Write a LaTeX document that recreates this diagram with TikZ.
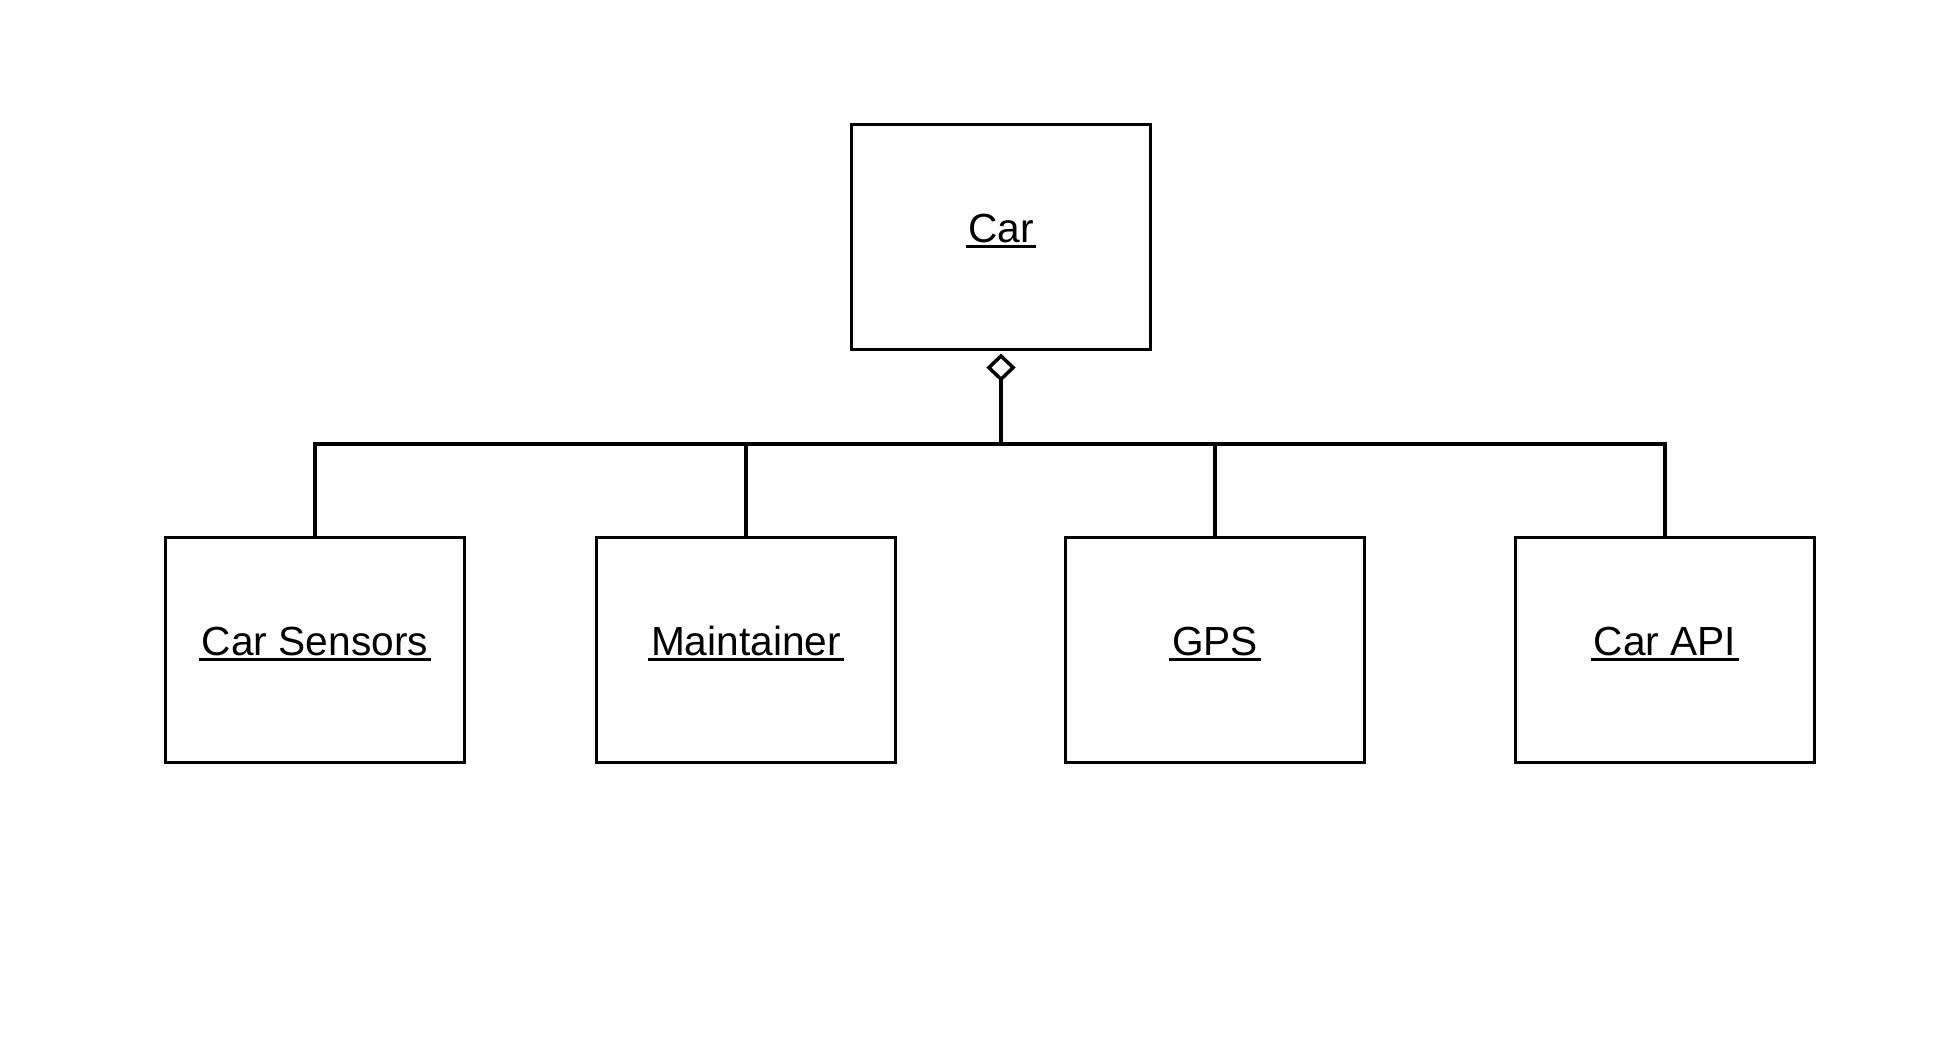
\documentclass[tikz,border=0pt]{standalone}
\usepackage{fontspec}
\setmainfont{Liberation Sans}
\usepackage{tikz}
\usetikzlibrary{arrows.meta}

% underlined object name (UML instance)
\newcommand{\objname}[1]{\setbox0\hbox{#1}%
  \rlap{\kern-2pt\rule[-4.5pt]{\dimexpr\wd0+4pt\relax}{2.2pt}}\box0}

\tikzset{
  objbox/.style={draw, line width=2.4pt, minimum width=224.5pt, minimum height=168.5pt,
    inner sep=0pt, font=\fontsize{30.5}{36}\selectfont, text height=22pt, text depth=14pt},
  wire/.style={line width=2.8pt},
  aggrtip/.style={{Diamond[open, length=21pt, width=22pt, line width=2.6pt]}-}
}

\begin{document}
\begin{tikzpicture}[x=0.75pt, y=-0.75pt]
    \useasboundingbox (0, 0) rectangle (1943, 1041);

    % Whole
    \node [objbox] (car) at (1001, 237) {\objname{Car}};

    % Parts
    \node [objbox] (sensors) at (315, 650) {\objname{Car Sensors}};
    \node [objbox] (maint) at (746, 650) {\objname{Maintainer}};
    \node [objbox] (gps) at (1215, 650) {\objname{GPS}};
    \node [objbox] (api) at (1665, 650) {\objname{Car API}};

    % Aggregation
    \coordinate (bus) at (1001, 444);
    \draw [wire, aggrtip] ([yshift=-2pt]car.south) -- (bus);
    \foreach \part in {sensors, maint, gps, api}
        \draw [wire] (bus) -| (\part.north);
\end{tikzpicture}
\end{document}
